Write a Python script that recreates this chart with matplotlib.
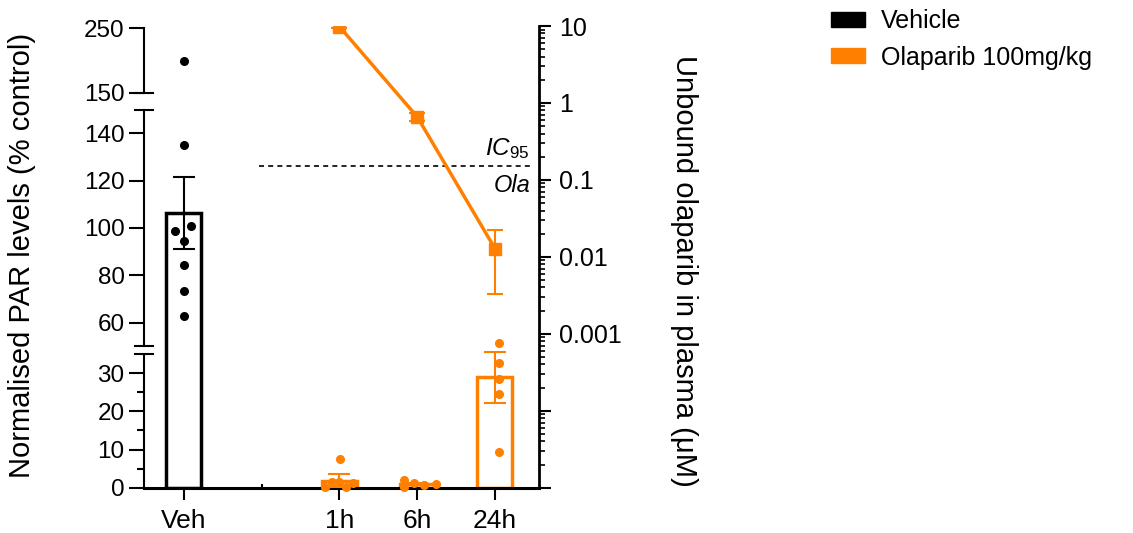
import numpy as np
import matplotlib
matplotlib.use("Agg")
import matplotlib.pyplot as plt
from matplotlib.patches import Patch
from matplotlib.ticker import LogLocator, FuncFormatter, NullFormatter

plt.rcParams['font.family'] = ['Liberation Sans', 'DejaVu Sans']
plt.rcParams['mathtext.fontset'] = 'custom'
plt.rcParams['mathtext.it'] = 'Liberation Sans:italic'
plt.rcParams['mathtext.rm'] = 'Liberation Sans'

# --- Daten ---
groups = ["Veh", "1h", "6h", "24h"]
group_x = [0, 2, 3, 4]
par_mean = [106.3, 1.8, 1.0, 29.0]
par_sem = [15.3, 1.7, 0.3, 6.7]

veh_points = [199, 135, 101, 98.7, 94.7, 84.5, 73.3, 63]
veh_jitter = [0, 0, 0.09, -0.115, 0, 0, 0, 0]
h1_points = [7.5, 0.2, 1.6, 1.6, 0.2, 1.2]
h1_jitter = [0.01, -0.19, -0.1, 0.0, 0.09, 0.17]
h6_points = [2.0, 0.2, 1.3, 0.8, 1.0]
h6_jitter = [-0.17, -0.17, -0.04, 0.085, 0.235]
h24_points = [37.9, 32.6, 28.4, 24.5, 9.4]
h24_jitter = [0.055, 0.055, 0.055, 0.055, 0.055]

pk_x = [2, 3, 4]
pk_mean = [9.8, 0.66, 0.0128]
pk_sd = [0.5, 0.08, 0.0095]
ic95 = 0.152

black = "black"
orange = "#FF8000"
bar_colors = [black, orange, orange, orange]

W, H = 1133, 533
def fy(py):
    return (H - py) / H

x0 = 144 / W
w = (539 - 144) / W
xlim = (-0.514, 4.566)

fig = plt.figure(figsize=(W / 100, H / 100), dpi=100)
ax_bot = fig.add_axes([x0, fy(487.7), w, (487.7 - 354.2) / H])
ax_mid = fig.add_axes([x0, fy(354.2), w, (354.2 - 109.6) / H])
ax_top = fig.add_axes([x0, fy(92.7), w, (92.7 - 28.3) / H])
ax_r = fig.add_axes([x0, fy(487.7), w, (487.7 - 26) / H])

ax_bot.set_ylim(0, 35)
ax_mid.set_ylim(46.7, 150)
ax_top.set_ylim(150, 250)

for ax in (ax_bot, ax_mid, ax_top, ax_r):
    ax.set_xlim(*xlim)
    ax.patch.set_visible(False)
    for s in ("top", "right"):
        ax.spines[s].set_visible(False)
    ax.spines["left"].set_linewidth(1.5)
    ax.tick_params(axis="y", length=11, width=1.5, labelsize=17.5, pad=3)

for ax in (ax_mid, ax_top):
    ax.spines["bottom"].set_visible(False)
    ax.set_xticks([])

ax_bot.spines["left"].set_bounds(0, 35)
ax_mid.spines["left"].set_bounds(50, 150)
ax_top.spines["left"].set_bounds(150, 250)

ax_bot.set_yticks([0, 10, 20, 30])
ax_bot.set_yticks([5, 15, 25], minor=True)
ax_bot.tick_params(axis="y", which="minor", length=5, width=1.5)
ax_mid.set_yticks([60, 80, 100, 120, 140])
ax_top.set_yticks([150, 250])

ax_bot.spines["bottom"].set_linewidth(2.2)
ax_bot.set_xticks(group_x, groups)
ax_bot.set_xticks([1], minor=True)
ax_bot.tick_params(axis="x", length=8.5, width=1.5, labelsize=19, pad=7)
ax_bot.tick_params(axis="x", which="minor", direction="in", length=3, width=1.5)

# Achsenbruch-Markierungen
for ax, val in ((ax_bot, 35), (ax_mid, 50), (ax_mid, 150), (ax_top, 150)):
    ax.plot([-0.024, 0.024], [val, val], color=black, lw=1.5,
            transform=ax.get_yaxis_transform(), clip_on=False)

# Balken (unten + mitte, damit der Veh-Balken durchgehend ist)
for ax in (ax_bot, ax_mid):
    ax.bar(group_x, par_mean, width=0.45, color="white",
           edgecolor=bar_colors, linewidth=2.5, zorder=2)

# Fehlerbalken
eb = ax_mid.errorbar(group_x[0], par_mean[0], yerr=par_sem[0], fmt="none",
                     ecolor=black, elinewidth=1.5, capsize=8, capthick=1.5, zorder=3)
eb2 = ax_bot.errorbar(group_x[1:], par_mean[1:], yerr=par_sem[1:], fmt="none",
                      ecolor=orange, elinewidth=1.5, capsize=8, capthick=1.5, zorder=3)
for c in eb2.get_children():
    c.set_clip_on(False)

# Einzelpunkte
def pick_ax(v):
    if v > 150:
        return ax_top
    if v >= 46.7:
        return ax_mid
    return ax_bot

point_sets = [(0, veh_points, veh_jitter, black),
              (2, h1_points, h1_jitter, orange),
              (3, h6_points, h6_jitter, orange),
              (4, h24_points, h24_jitter, orange)]
for gx, pts, jit, col in point_sets:
    for v, j in zip(pts, jit):
        pick_ax(v).plot(gx + j, v, "o", color=col, ms=5.5, mec=col,
                        clip_on=False, zorder=4)

# rechte Achse: Olaparib-Konzentration (log)
ax_r.set_yscale("log")
ax_r.set_ylim(1e-5, 10)
ax_r.spines["left"].set_visible(False)
ax_r.spines["bottom"].set_visible(False)
ax_r.spines["right"].set_visible(True)
ax_r.spines["right"].set_linewidth(2)
ax_r.set_xticks([])
ax_r.yaxis.tick_right()
ax_r.yaxis.set_major_locator(LogLocator(base=10, numticks=12))
ax_r.yaxis.set_minor_locator(LogLocator(base=10, subs=np.arange(2, 10), numticks=12))
ax_r.yaxis.set_major_formatter(FuncFormatter(lambda v, p: f"{v:g}" if v >= 0.00099 else ""))
ax_r.yaxis.set_minor_formatter(NullFormatter())
ax_r.tick_params(axis="y", which="major", length=8.5, width=1.5, labelsize=18, pad=6)
ax_r.tick_params(axis="y", which="minor", length=4.5, width=1.2)

ax_r.errorbar(pk_x, pk_mean, yerr=pk_sd, color=orange, marker="s", ms=9,
              lw=2.5, elinewidth=1.5, capsize=6, capthick=1.5, zorder=5)
ax_r.hlines(ic95, 0.96, 4.47, colors=black, linestyles=(0, (3, 2.5)), lw=1.2)
ax_r.text(4.45, ic95 * 1.15, r"$\mathit{IC_{95}}$", ha="right", va="bottom", fontsize=17.5)
ax_r.text(4.45, ic95 / 1.27, "Ola", style="italic", ha="right", va="top", fontsize=17)

# Achsentitel
fig.text(22 / W, fy(255), "Normalised PAR levels (% control)", rotation=90,
         ha="center", va="center", fontsize=21)
fig.text(684 / W, fy(271), "Unbound olaparib in plasma (μM)", rotation=270,
         ha="center", va="center", fontsize=21)

# Legende
fig.legend(handles=[Patch(facecolor=black, edgecolor=black),
                    Patch(facecolor=orange, edgecolor=orange)],
           labels=["Vehicle", "Olaparib 100mg/kg"],
           loc="upper left", bbox_to_anchor=(831 / W, fy(9)), frameon=False,
           fontsize=18, handlelength=1.36, handleheight=0.55, handletextpad=0.64,
           labelspacing=0.5, borderpad=0, borderaxespad=0)

plt.savefig("out.png", dpi=100)
